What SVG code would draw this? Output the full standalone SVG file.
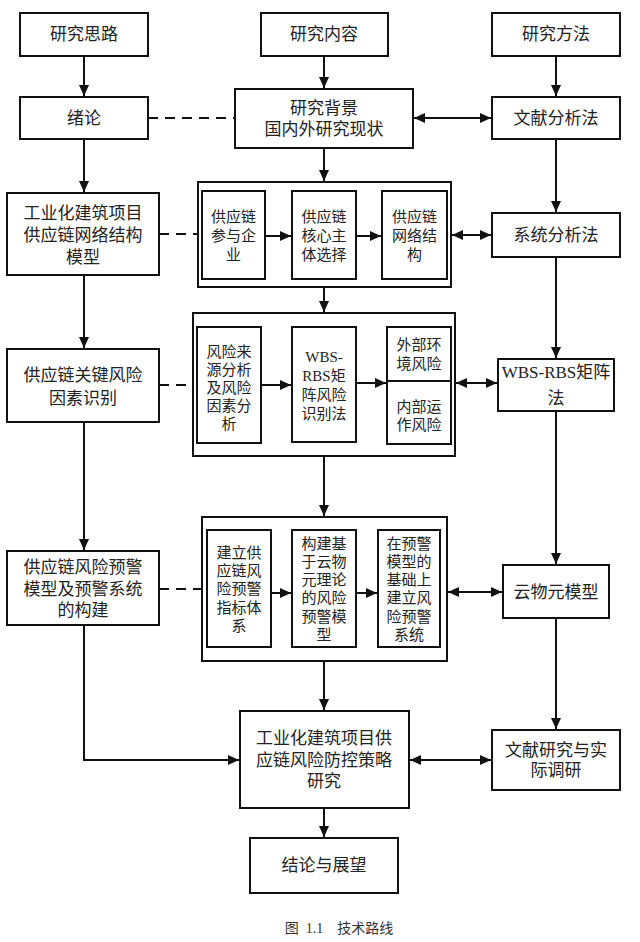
<svg xmlns="http://www.w3.org/2000/svg" width="640" height="942" viewBox="0 0 640 942">
<style>
.b{fill:#fff;stroke:#111;stroke-width:2}
.t{font-family:"Liberation Serif","Noto Sans CJK SC",serif;font-size:17px;fill:#222;text-anchor:middle}
.s{font-family:"Liberation Serif","Noto Sans CJK SC",serif;font-size:15px;fill:#222;text-anchor:middle}
.c{stroke:#111;stroke-width:2;fill:none}
.d{stroke:#111;stroke-width:2;fill:none;stroke-dasharray:10 7}
</style>
<defs>
<marker id="a" markerUnits="userSpaceOnUse" markerWidth="12" markerHeight="10" refX="11" refY="5" orient="auto-start-reverse">
<path d="M0,0 L11,5 L0,10 z" fill="#111"/>
</marker>
</defs>
<rect width="640" height="942" fill="#fff"/>

<g id="connectors">
<path class="c" d="M84,56 V96" marker-end="url(#a)"/>
<path class="c" d="M84,139 V192" marker-end="url(#a)"/>
<path class="c" d="M84,275 V348" marker-end="url(#a)"/>
<path class="c" d="M84,422 V550" marker-end="url(#a)"/>
<path class="c" d="M84,625 V760 H239" marker-end="url(#a)"/>
<path class="c" d="M324,56 V88" marker-end="url(#a)"/>
<path class="c" d="M324,148 V181" marker-end="url(#a)"/>
<path class="c" d="M324,287 V312" marker-end="url(#a)"/>
<path class="c" d="M324,456 V516" marker-end="url(#a)"/>
<path class="c" d="M324,661 V710" marker-end="url(#a)"/>
<path class="c" d="M324,808 V837" marker-end="url(#a)"/>
<path class="c" d="M556,56 V96" marker-end="url(#a)"/>
<path class="c" d="M556,139 V212" marker-end="url(#a)"/>
<path class="c" d="M556,257 V358" marker-end="url(#a)"/>
<path class="c" d="M556,411 V564" marker-end="url(#a)"/>
<path class="c" d="M556,618 V729" marker-end="url(#a)"/>
<path class="d" d="M148,118 H235"/>
<path class="d" d="M159,234 H198"/>
<path class="d" d="M159,385 H193"/>
<path class="d" d="M159,589 H202"/>
<path class="c" d="M414,118 H491" marker-start="url(#a)" marker-end="url(#a)"/>
<path class="c" d="M452,235 H491" marker-start="url(#a)" marker-end="url(#a)"/>
<path class="c" d="M456,383 H497" marker-start="url(#a)" marker-end="url(#a)"/>
<path class="c" d="M448,592 H502" marker-start="url(#a)" marker-end="url(#a)"/>
<path class="c" d="M410,760 H491" marker-start="url(#a)" marker-end="url(#a)"/>
</g>

<g id="n-silu"><rect class="b" x="20" y="13" width="128" height="43"/><text class="t" x="84" y="40">研究思路</text></g>
<g id="n-neirong"><rect class="b" x="261" y="13" width="127" height="43"/><text class="t" x="324" y="40">研究内容</text></g>
<g id="n-fangfa"><rect class="b" x="492" y="13" width="128" height="43"/><text class="t" x="556" y="40">研究方法</text></g>

<g id="n-xulun"><rect class="b" x="20" y="97" width="128" height="42"/><text class="t" x="84" y="124">绪论</text></g>
<g id="n-beijing"><rect class="b" x="235" y="89" width="178" height="59"/><text class="t" x="324" y="114">研究背景</text><text class="t" x="324" y="135">国内外研究现状</text></g>
<g id="n-wenxian"><rect class="b" x="492" y="97" width="128" height="42"/><text class="t" x="556" y="124">文献分析法</text></g>

<g id="n-wangluo"><rect class="b" x="7" y="193" width="152" height="82"/><text class="t" x="83" y="219">工业化建筑项目</text><text class="t" x="83" y="241">供应链网络结构</text><text class="t" x="83" y="263">模型</text></g>
<g id="n-box1">
<rect class="b" x="198" y="182" width="253" height="105"/>
<rect class="b" x="202" y="191" width="63" height="88"/>
<text class="s" x="233.5" y="222">供应链</text><text class="s" x="233.5" y="241">参与企</text><text class="s" x="233.5" y="260">业</text>
<rect class="b" x="292" y="191" width="64" height="88"/>
<text class="s" x="324" y="222">供应链</text><text class="s" x="324" y="241">核心主</text><text class="s" x="324" y="260">体选择</text>
<rect class="b" x="382" y="191" width="65" height="88"/>
<text class="s" x="414.5" y="222">供应链</text><text class="s" x="414.5" y="241">网络结</text><text class="s" x="414.5" y="260">构</text>
<path class="c" d="M265,236 H291" marker-end="url(#a)"/>
<path class="c" d="M356,236 H381" marker-end="url(#a)"/>
</g>
<g id="n-xitong"><rect class="b" x="492" y="213" width="128" height="44"/><text class="t" x="556" y="241">系统分析法</text></g>

<g id="n-guanjian"><rect class="b" x="7" y="349" width="152" height="73"/><text class="t" x="83" y="381">供应链关键风险</text><text class="t" x="83" y="404">因素识别</text></g>
<g id="n-box2">
<rect class="b" x="193" y="313" width="262" height="143"/>
<rect class="b" x="197" y="327" width="64" height="116"/>
<text class="s" x="229" y="357">风险来</text><text class="s" x="229" y="375">源分析</text><text class="s" x="229" y="393">及风险</text><text class="s" x="229" y="411">因素分</text><text class="s" x="229" y="429">析</text>
<rect class="b" x="292" y="327" width="64" height="115"/>
<text class="s" x="324" y="362">WBS-</text><text class="s" x="324" y="381">RBS矩</text><text class="s" x="324" y="400">阵风险</text><text class="s" x="324" y="419">识别法</text>
<rect class="b" x="387" y="327" width="64" height="117"/>
<path class="c" d="M387,381 H451"/>
<text class="s" x="419" y="350">外部环</text><text class="s" x="419" y="369">境风险</text>
<text class="s" x="419" y="412">内部运</text><text class="s" x="419" y="430">作风险</text>
<path class="c" d="M261,385 H291" marker-end="url(#a)"/>
<path class="c" d="M356,383 H386" marker-end="url(#a)"/>
</g>
<g id="n-wbs"><rect class="b" x="498" y="359" width="116" height="52"/><text class="t" x="556" y="378">WBS-RBS矩阵</text><text class="t" x="556" y="404">法</text></g>

<g id="n-yujing"><rect class="b" x="7" y="551" width="152" height="74"/><text class="t" x="83" y="573">供应链风险预警</text><text class="t" x="83" y="595">模型及预警系统</text><text class="t" x="83" y="616">的构建</text></g>
<g id="n-box3">
<rect class="b" x="202" y="517" width="245" height="144"/>
<rect class="b" x="207" y="530" width="64" height="117"/>
<text class="s" x="239" y="558">建立供</text><text class="s" x="239" y="576">应链风</text><text class="s" x="239" y="594">险预警</text><text class="s" x="239" y="613">指标体</text><text class="s" x="239" y="631">系</text>
<rect class="b" x="292" y="530" width="64" height="117"/>
<text class="s" x="324" y="549">构建基</text><text class="s" x="324" y="567">于云物</text><text class="s" x="324" y="585">元理论</text><text class="s" x="324" y="603">的风险</text><text class="s" x="324" y="622">预警模</text><text class="s" x="324" y="640">型</text>
<rect class="b" x="378" y="530" width="62" height="117"/>
<text class="s" x="409" y="549">在预警</text><text class="s" x="409" y="567">模型的</text><text class="s" x="409" y="585">基础上</text><text class="s" x="409" y="603">建立风</text><text class="s" x="409" y="622">险预警</text><text class="s" x="409" y="640">系统</text>
<path class="c" d="M271,593 H291" marker-end="url(#a)"/>
<path class="c" d="M356,593 H377" marker-end="url(#a)"/>
</g>
<g id="n-yunwu"><rect class="b" x="503" y="565" width="106" height="53"/><text class="t" x="556" y="598">云物元模型</text></g>

<g id="n-celue"><rect class="b" x="240" y="711" width="169" height="97"/><text class="t" x="324" y="744">工业化建筑项目供</text><text class="t" x="324" y="766">应链风险防控策略</text><text class="t" x="324" y="787">研究</text></g>
<g id="n-diaoyan"><rect class="b" x="492" y="730" width="128" height="60"/><text class="t" x="556" y="756">文献研究与实</text><text class="t" x="556" y="776">际调研</text></g>
<g id="n-jielun"><rect class="b" x="250" y="838" width="148" height="55"/><text class="t" x="324" y="871">结论与展望</text></g>

<text x="339" y="933" style="font-family:'Liberation Serif','Noto Sans CJK SC',serif;font-size:14px;fill:#333;text-anchor:middle" xml:space="preserve">图  1.1    技术路线</text>
</svg>
